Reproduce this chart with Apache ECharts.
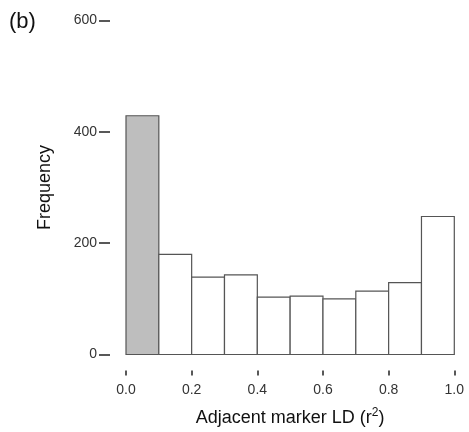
<!DOCTYPE html>
<html>
<head>
<meta charset="utf-8">
<script src="https://cdn.jsdelivr.net/npm/echarts@6/dist/echarts.min.js"></script>
<style>html,body{margin:0;padding:0;background:#fff}#c{width:469px;height:432px}</style>
</head>
<body>
<div id="c"></div>
<script>
const binStarts = [0.0, 0.1, 0.2, 0.3, 0.4, 0.5, 0.6, 0.7, 0.8, 0.9];
const binEnds = [0.1, 0.2, 0.3, 0.4, 0.5, 0.6, 0.7, 0.8, 0.9, 1.0];
const frequencies = [429, 180, 139, 143, 103, 105, 100, 114, 129, 248];
const highlighted = [true, false, false, false, false, false, false, false, false, false];
const xTicks = [0.0, 0.2, 0.4, 0.6, 0.8, 1.0];
const yTicks = [0, 200, 400, 600];

const FONT = 'Liberation Sans, Arial, sans-serif';
const data = binStarts.map((s, i) => [s, binEnds[i], frequencies[i], highlighted[i] ? 1 : 0]);

const chart = echarts.init(document.getElementById('c'));
chart.setOption({
  animation: false,
  textStyle: { fontFamily: FONT },
  graphic: [{
    type: 'text', left: 9, top: 11,
    style: { text: '(b)', font: '22px ' + FONT, fill: '#111' }
  }],
  grid: { left: 126, right: 14.7, top: 20.6, bottom: 76.3 },
  xAxis: {
    type: 'value', min: xTicks[0], max: xTicks[xTicks.length - 1], interval: 0.2, offset: 16,
    axisLine: { show: false, onZero: false },
    axisTick: { show: true, length: 5, lineStyle: { color: '#222', width: 1.5 } },
    splitLine: { show: false },
    axisLabel: { margin: 13, fontSize: 14, color: '#333', fontFamily: FONT,
      formatter: v => v.toFixed(1) },
    name: 'Adjacent marker LD (r{sup|2})',
    nameLocation: 'middle', nameGap: 36,
    nameTextStyle: { fontSize: 18, color: '#111', fontFamily: FONT,
      rich: { sup: { fontSize: 12, verticalAlign: 'top', padding: [0, 0, 11, 0], color: '#111', fontFamily: FONT } } }
  },
  yAxis: {
    type: 'value', min: yTicks[0], max: yTicks[yTicks.length - 1], interval: 200, offset: 16,
    axisLine: { show: false, onZero: false },
    axisTick: { show: true, length: 11, lineStyle: { color: '#222', width: 1.5 } },
    splitLine: { show: false },
    axisLabel: { margin: 13, fontSize: 14, color: '#333', fontFamily: FONT },
    name: 'Frequency', nameLocation: 'middle', nameGap: 56, nameRotate: 90,
    nameTextStyle: { fontSize: 18, color: '#111', fontFamily: FONT }
  },
  series: [{
    type: 'custom',
    data: data,
    encode: { x: [0, 1], y: 2 },
    renderItem: function (params, api) {
      const p0 = api.coord([api.value(0), 0]);
      const p1 = api.coord([api.value(1), api.value(2)]);
      return {
        type: 'rect',
        shape: { x: p0[0], y: p1[1], width: p1[0] - p0[0], height: p0[1] - p1[1] },
        style: { fill: api.value(3) ? '#bebebe' : '#ffffff', stroke: '#555', lineWidth: 1.2 }
      };
    }
  }]
});
</script>
</body>
</html>
